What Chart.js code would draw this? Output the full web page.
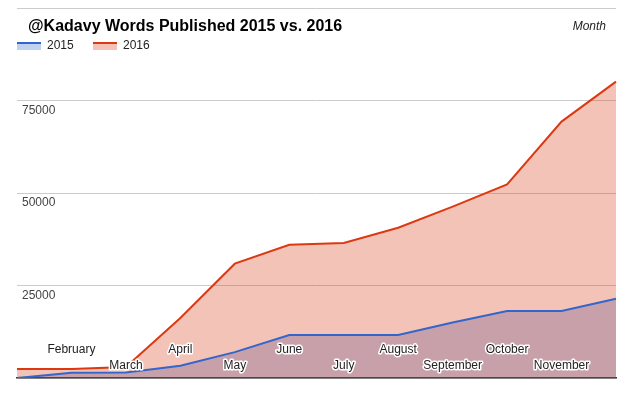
<!DOCTYPE html>
<html>
<head>
<meta charset="utf-8">
<script src="https://cdn.jsdelivr.net/npm/chart.js@4.4.0/dist/chart.umd.min.js"></script>
<style>
  html, body { margin: 0; padding: 0; background: #fff; }
  #wrap { width: 630px; height: 395px; position: relative; }
</style>
</head>
<body>
<div id="wrap"><canvas id="chart" width="630" height="395"></canvas></div>
<script>
// Chart data
const months = ['January', 'February', 'March', 'April', 'May', 'June',
  'July', 'August', 'September', 'October', 'November', 'December'];
const words2015 = [0, 1400, 1500, 3300, 7000, 11600, 11600, 11600, 15000, 18100, 18100, 21400];
const words2016 = [2400, 2400, 3000, 16200, 30900, 36000, 36500, 40600, 46300, 52300, 69300, 80100];
const yTicks = [25000, 50000, 75000];

const FONT = 'Arial, "Liberation Sans", sans-serif';

// Title, legend and in-plot labels (Google Charts look)
const overlayPlugin = {
  id: 'overlay',
  afterDraw(chart) {
    const ctx = chart.ctx;
    const xs = chart.scales.x;
    const ys = chart.scales.y;
    ctx.save();

    // y tick labels, just below each gridline
    ctx.font = '12px ' + FONT;
    ctx.fillStyle = '#444';
    ctx.textAlign = 'left';
    ctx.textBaseline = 'middle';
    yTicks.forEach(function(v) {
      ctx.fillText(String(v), 22, ys.getPixelForValue(v) + 10);
    });

    // month labels, staggered, with white halo
    ctx.textAlign = 'center';
    ctx.lineJoin = 'round';
    for (let i = 1; i < months.length - 1; i++) {
      const x = xs.getPixelForValue(i);
      const y = (i % 2 === 1) ? 350 : 366;
      ctx.strokeStyle = '#fff';
      ctx.lineWidth = 3;
      ctx.strokeText(months[i], x, y);
      ctx.fillStyle = '#222';
      ctx.fillText(months[i], x, y);
    }

    // title
    ctx.textAlign = 'left';
    ctx.font = 'bold 16px ' + FONT;
    ctx.fillStyle = '#000';
    ctx.fillText('@Kadavy Words Published 2015 vs. 2016', 28, 27);

    // axis title
    ctx.textAlign = 'right';
    ctx.font = 'italic 12px ' + FONT;
    ctx.fillStyle = '#222';
    ctx.fillText('Month', 606, 27);

    // legend
    const items = [
      { label: '2015', line: '#3366cc', fill: 'rgba(51,102,204,0.3)', x: 17 },
      { label: '2016', line: '#dc3912', fill: 'rgba(220,57,18,0.3)', x: 93 }
    ];
    ctx.textAlign = 'left';
    ctx.font = '12px ' + FONT;
    items.forEach(function(it) {
      ctx.fillStyle = it.fill;
      ctx.fillRect(it.x, 44, 24, 6);
      ctx.fillStyle = it.line;
      ctx.fillRect(it.x, 42, 24, 2);
      ctx.fillStyle = '#222';
      ctx.fillText(it.label, it.x + 30, 46);
    });

    ctx.restore();
  }
};

new Chart(document.getElementById('chart'), {
  type: 'line',
  data: {
    labels: months,
    datasets: [{
      label: '2015',
      data: words2015,
      borderColor: '#3366cc',
      backgroundColor: 'rgba(95,79,137,0.3)',
      borderWidth: 2,
      fill: 'origin',
      pointRadius: 0,
      tension: 0
    }, {
      label: '2016',
      data: words2016,
      borderColor: '#dc3912',
      backgroundColor: 'rgba(220,57,18,0.3)',
      borderWidth: 2,
      fill: 'origin',
      pointRadius: 0,
      tension: 0
    }]
  },
  options: {
    responsive: false,
    animation: false,
    layout: { padding: { left: 17, right: 14, top: 8, bottom: 17 } },
    plugins: {
      legend: { display: false },
      title: { display: false },
      tooltip: { enabled: false }
    },
    scales: {
      x: {
        offset: false,
        ticks: { display: false },
        grid: { display: false, drawTicks: false },
        border: { display: true, color: '#333', width: 1.5 },
        afterFit: function(scale) { scale.height = 0; }
      },
      y: {
        min: 0,
        max: 100000,
        ticks: { display: false, stepSize: 25000 },
        grid: { color: '#cccccc', drawTicks: false, lineWidth: 1 },
        border: { display: false },
        afterFit: function(scale) { scale.width = 0; }
      }
    }
  },
  plugins: [overlayPlugin]
});
</script>
</body>
</html>
